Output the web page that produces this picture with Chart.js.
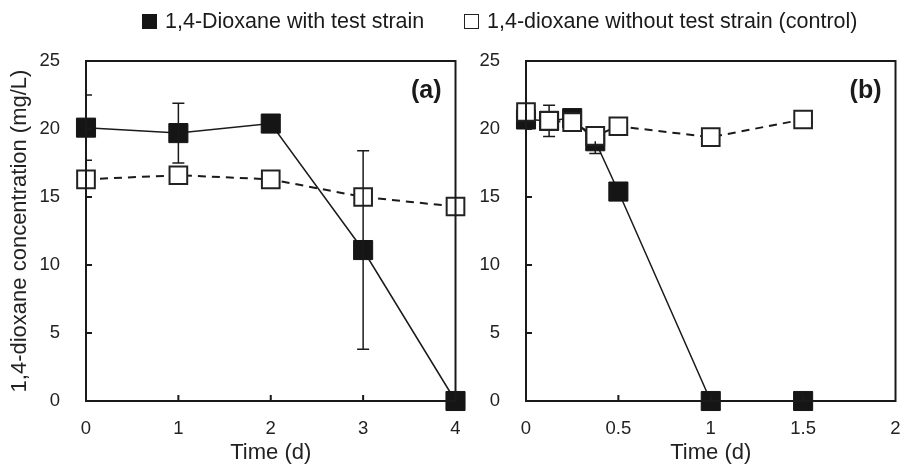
<!DOCTYPE html>
<html>
<head>
<meta charset="utf-8">
<script src="https://cdn.jsdelivr.net/npm/chart.js@4.4.1/dist/chart.umd.min.js"></script>
<style>
  body { margin: 0; background: #fff; font-family: 'Liberation Sans', Arial, sans-serif; }
  #wrap { position: relative; width: 910px; height: 466px; }
  canvas { position: absolute; top: 0; }
  #chartA { left: 0; }
  #chartB { left: 470px; }
  .leg { position: absolute; top: 8px; font-size: 21.5px; color: #1a1a1a; line-height: 26px; white-space: nowrap; z-index: 2; }
  .box { position: absolute; width: 15px; height: 15px; top: 6px; box-sizing: border-box; }
</style>
</head>
<body>
<div id="wrap">
  <div class="leg" style="left:142px"><span class="box" style="left:0;background:#151515"></span><span style="margin-left:23px">1,4-Dioxane with test strain</span></div>
  <div class="leg" style="left:464px"><span class="box" style="left:0;border:1.5px solid #222;background:#fff"></span><span style="margin-left:23px">1,4-dioxane without test strain (control)</span></div>
  <canvas id="chartA" width="470" height="466"></canvas>
  <canvas id="chartB" width="440" height="466"></canvas>
</div>
<script>
// panel (a)
const timeA = [0, 1, 2, 3, 4];
const withStrainA = [20.1, 19.7, 20.4, 11.1, 0];
const withErrUpA = [2.4, 2.2, 0, 7.3, 0];
const withErrDownA = [2.4, 2.2, 0, 7.3, 0];
const controlA = [16.3, 16.6, 16.3, 15.0, 14.3];

// panel (b)
const timeB = [0, 0.125, 0.25, 0.375, 0.5, 1, 1.5];
const withStrainB = [20.7, 20.6, 20.8, 19.1, 15.4, 0, 0];
const withErrUpB = [0, 0, 0, 0, 0, 0, 0];
const withErrDownB = [0, 0, 0, 0.9, 0, 0, 0];
const controlB = [21.25, 20.6, 20.5, 19.5, 20.2, 19.4, 20.7];
const controlErrB = [0, 1.15, 0, 0, 0, 0, 0];

const yTicks = [0, 5, 10, 15, 20, 25];
const FONT = "'Liberation Sans', Arial, sans-serif";
const INK = '#1a1a1a';

function drawErrors(chart, idx, up, down) {
    const meta = chart.getDatasetMeta(idx);
    const ys = chart.scales.y;
    const data = chart.data.datasets[idx].data;
    const ctx = chart.ctx;
    const area = chart.chartArea;
    ctx.save();
    ctx.beginPath();
    ctx.rect(area.left, area.top - 20, area.right - area.left, area.bottom - area.top + 40);
    ctx.clip();
    ctx.strokeStyle = INK;
    ctx.lineWidth = 1.5;
    meta.data.forEach((pt, i) => {
        const v = data[i].y;
        const u = up ? up[i] : 0, d = down ? down[i] : 0;
        if (!u && !d) return;
        const yt = ys.getPixelForValue(v + u), yb = ys.getPixelForValue(v - d);
        ctx.beginPath();
        ctx.moveTo(pt.x, yt); ctx.lineTo(pt.x, yb);
        if (u) { ctx.moveTo(pt.x - 6, yt); ctx.lineTo(pt.x + 6, yt); }
        if (d) { ctx.moveTo(pt.x - 6, yb); ctx.lineTo(pt.x + 6, yb); }
        ctx.stroke();
    });
    ctx.restore();
}

// frame, inward ticks, panel letter, error bars
const framePlugin = {
    id: 'frame',
    beforeDatasetDraw(chart, args, opts) {
        // control error bars sit under the open squares
        if (args.index === 1 && opts.ctrlErr) drawErrors(chart, 1, opts.ctrlErr, opts.ctrlErr);
    },
    afterDatasetsDraw(chart, args, opts) {
        drawErrors(chart, 0, opts.errUp, opts.errDown);
        const {ctx, chartArea: a, scales} = chart;
        ctx.save();
        ctx.strokeStyle = INK;
        ctx.lineWidth = 2;
        ctx.strokeRect(a.left, a.top, a.right - a.left, a.bottom - a.top);
        ctx.beginPath();
        scales.y.ticks.forEach(t => {
            if (t.value <= scales.y.min || t.value >= scales.y.max) return;
            const y = scales.y.getPixelForValue(t.value);
            ctx.moveTo(a.left, y); ctx.lineTo(a.left + 6, y);
        });
        scales.x.ticks.forEach(t => {
            if (t.value <= scales.x.min || t.value >= scales.x.max) return;
            const x = scales.x.getPixelForValue(t.value);
            ctx.moveTo(x, a.bottom); ctx.lineTo(x, a.bottom - 6);
        });
        ctx.stroke();
        ctx.fillStyle = INK;
        ctx.font = 'bold 25px ' + FONT;
        ctx.textAlign = 'right';
        ctx.textBaseline = 'middle';
        ctx.fillText(opts.label, a.right - 14, a.top + 30);
        ctx.restore();
    }
};

function makeChart(id, times, withData, ctrlData, xMax, xStep, yWidth, showTitle, frameOpts) {
    const ctx = document.getElementById(id).getContext('2d');
    return new Chart(ctx, {
        type: 'line',
        data: {
            datasets: [{
                label: '1,4-Dioxane with test strain',
                data: times.map((t, i) => ({x: t, y: withData[i]})),
                borderColor: INK,
                borderWidth: 1.5,
                backgroundColor: '#151515',
                pointStyle: 'rect',
                pointRadius: 13.5,
                pointBorderWidth: 1,
                pointBorderColor: '#151515',
                pointBackgroundColor: '#151515',
                order: 2,
                clip: false,
                tension: 0
            }, {
                label: '1,4-dioxane without test strain (control)',
                data: times.map((t, i) => ({x: t, y: ctrlData[i]})),
                borderColor: INK,
                borderWidth: 2,
                borderDash: [8, 6],
                pointStyle: 'rect',
                pointRadius: 12.5,
                pointBorderWidth: 2,
                pointBorderColor: '#222',
                pointBackgroundColor: '#fff',
                order: 1,
                clip: false,
                tension: 0
            }]
        },
        options: {
            responsive: false,
            animation: false,
            layout: { padding: { top: 61, right: 13, left: 0, bottom: 0 } },
            plugins: {
                legend: { display: false },
                tooltip: { enabled: false },
                frame: frameOpts
            },
            scales: {
                x: {
                    type: 'linear',
                    min: 0,
                    max: xMax,
                    grid: { display: false },
                    border: { display: false },
                    ticks: { stepSize: xStep, color: '#222', font: { family: FONT, size: 18.5 }, padding: 9, maxRotation: 0,
                             callback: v => String(v) },
                    title: { display: true, text: 'Time (d)', color: '#222', font: { family: FONT, size: 22 }, padding: { top: 0, bottom: 0 } },
                    afterFit: s => { s.height = 65; s.paddingLeft = 0; s.paddingRight = 0; }
                },
                y: {
                    min: 0,
                    max: 25,
                    grid: { display: false },
                    border: { display: false },
                    afterBuildTicks: s => { s.ticks = yTicks.map(v => ({value: v})); },
                    ticks: { color: '#222', font: { family: FONT, size: 18.5 }, padding: 18 },
                    title: { display: showTitle, text: '1,4-dioxane concentration (mg/L)', color: '#222', font: { family: FONT, size: 22 }, padding: { top: 7, bottom: 0 } },
                    afterFit: s => { s.width = yWidth; s.paddingTop = 0; s.paddingBottom = 0; }
                }
            }
        },
        plugins: [framePlugin]
    });
}

makeChart('chartA', timeA, withStrainA, controlA, 4, 1, 86, true,
    { label: '(a)', errUp: withErrUpA, errDown: withErrDownA, ctrlErr: null });
makeChart('chartB', timeB, withStrainB, controlB, 2, 0.5, 56, false,
    { label: '(b)', errUp: withErrUpB, errDown: withErrDownB, ctrlErr: controlErrB });
</script>
</body>
</html>
